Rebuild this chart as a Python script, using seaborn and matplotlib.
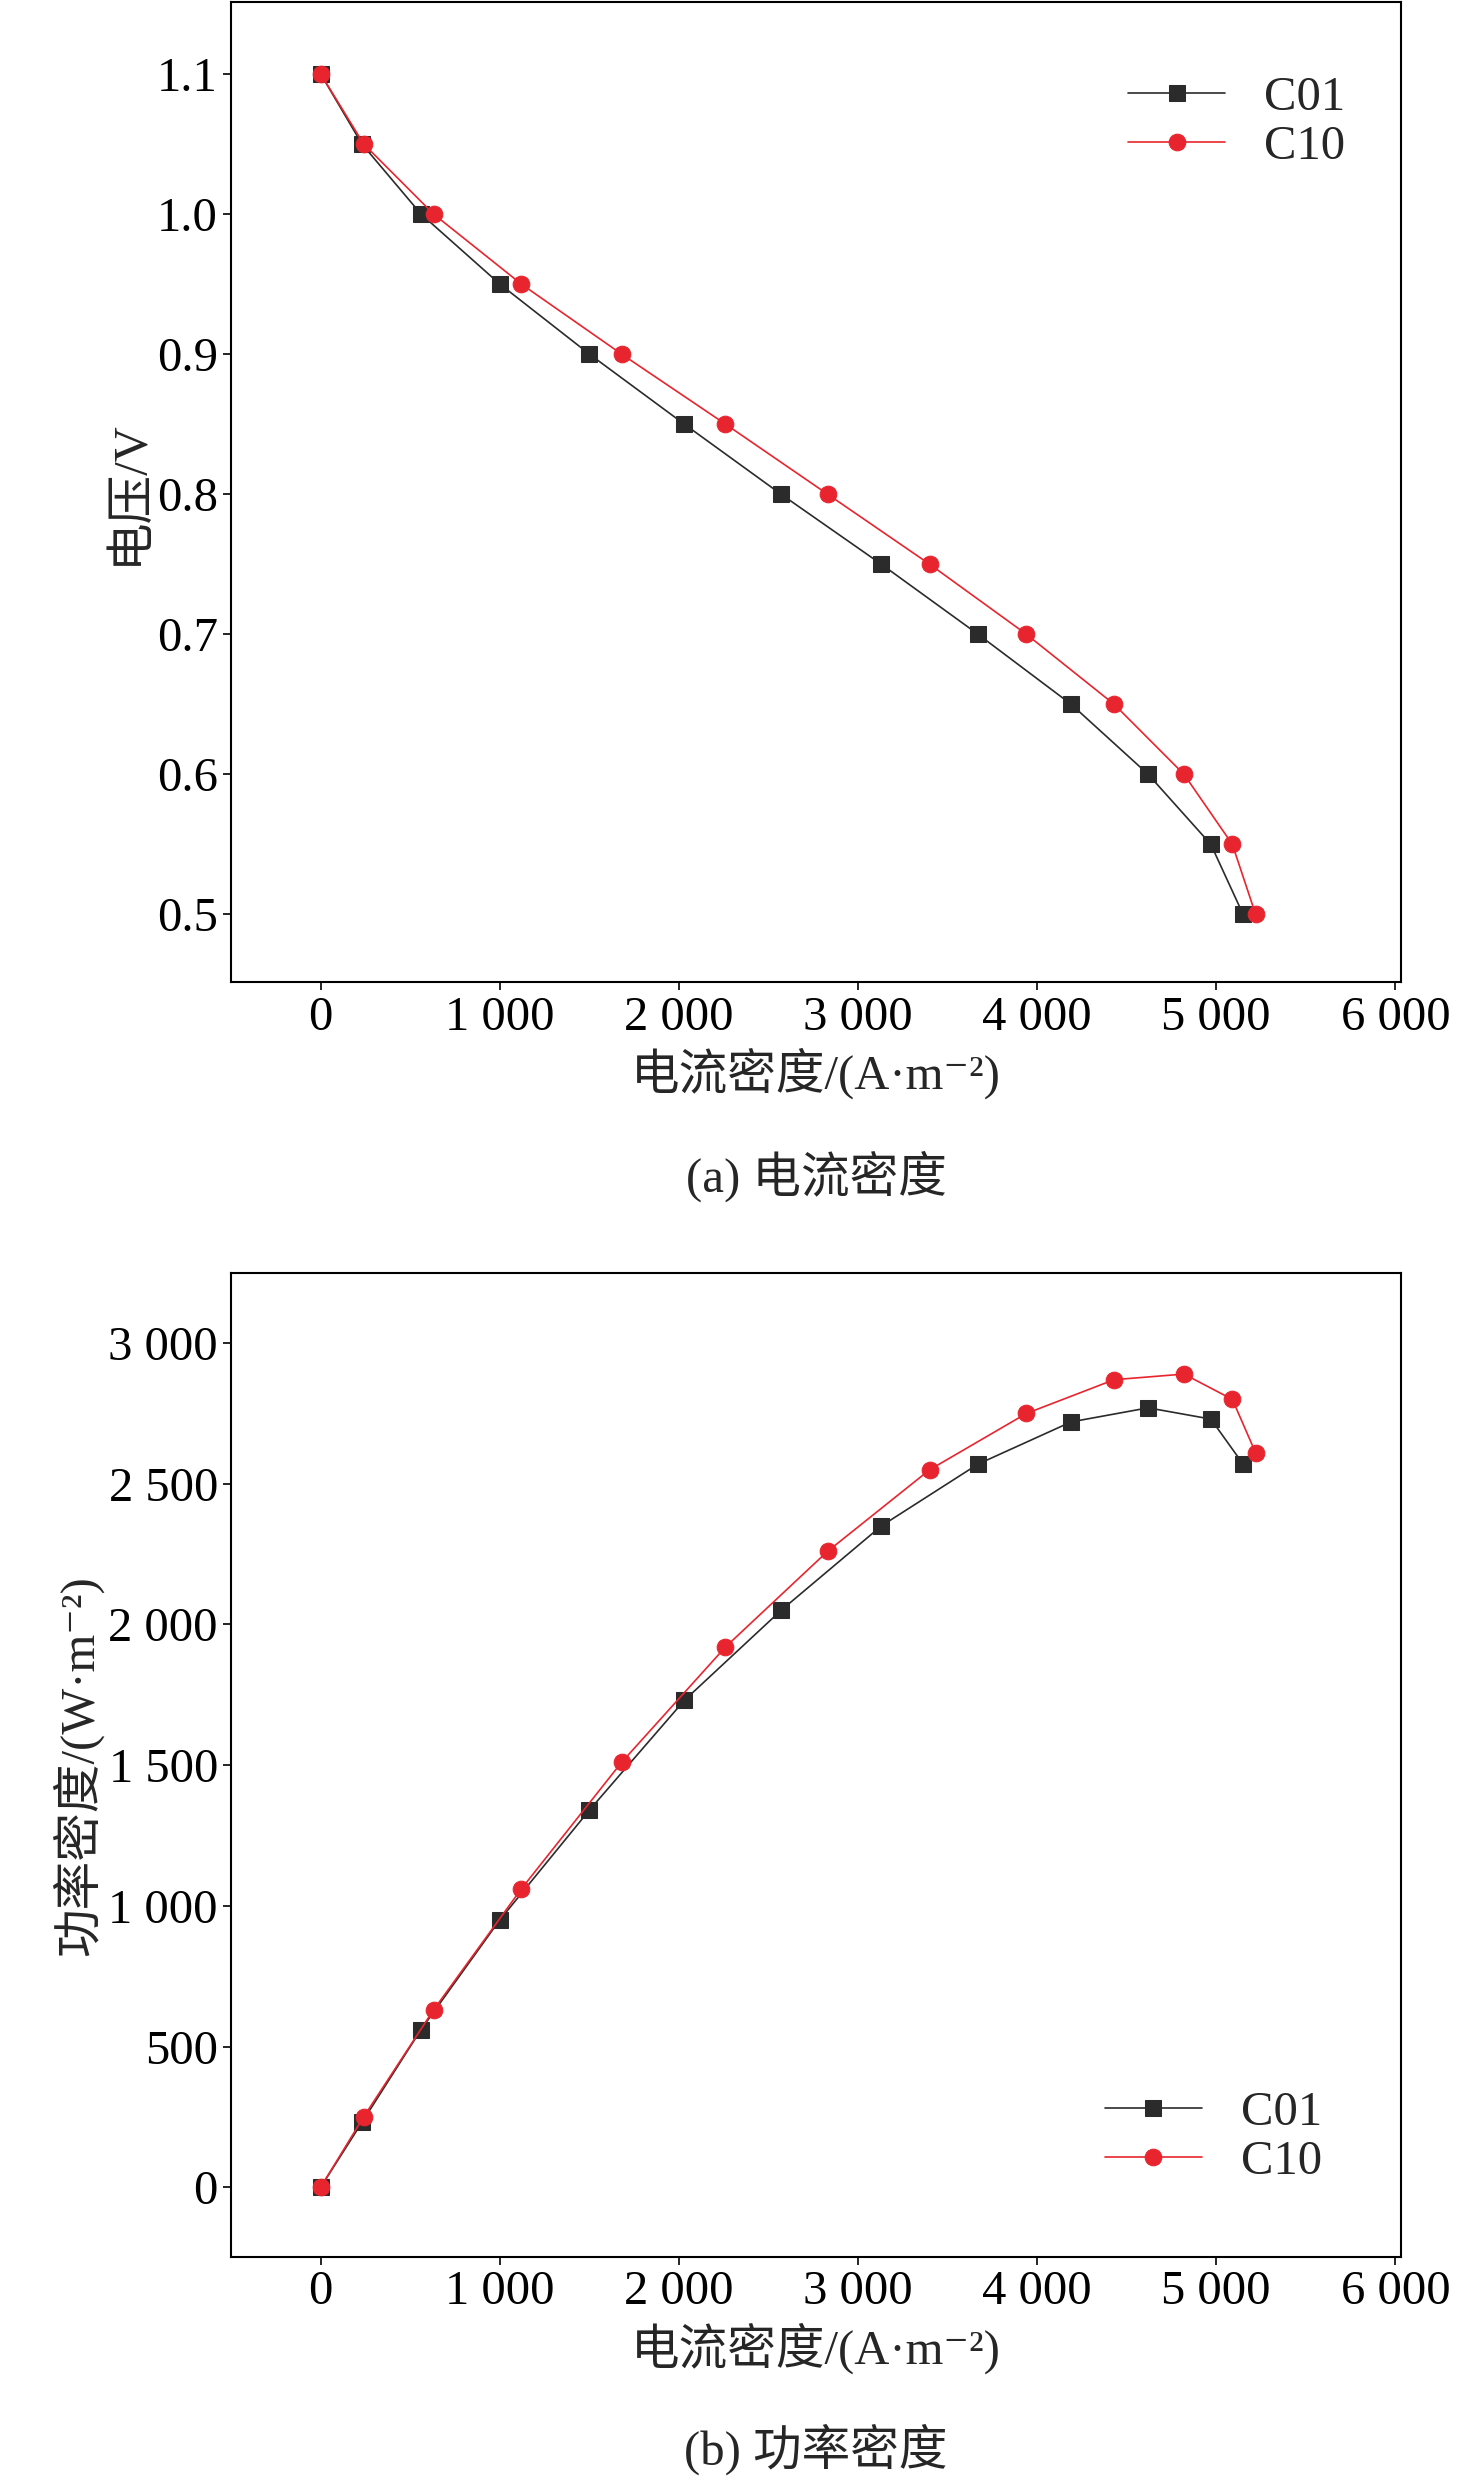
import matplotlib
matplotlib.use("Agg")
import matplotlib.pyplot as plt
import seaborn as sns
import pandas as pd
from matplotlib.ticker import FuncFormatter

sns.set_theme(style="ticks")
plt.rcParams['font.family'] = ['Liberation Serif', 'Noto Sans CJK SC', 'DejaVu Sans']

voltage = [1.1, 1.05, 1.0, 0.95, 0.9, 0.85, 0.8, 0.75, 0.7, 0.65, 0.6, 0.55, 0.5]
c01_current = [0, 230, 560, 1000, 1500, 2030, 2570, 3130, 3670, 4190, 4620, 4970, 5150]
c10_current = [0, 240, 630, 1120, 1680, 2260, 2830, 3400, 3940, 4430, 4820, 5090, 5220]
c01_power = [0, 230, 560, 950, 1340, 1730, 2050, 2350, 2570, 2720, 2770, 2730, 2570]
c10_power = [0, 250, 630, 1060, 1510, 1920, 2260, 2550, 2750, 2870, 2890, 2800, 2610]

df = pd.concat([
    pd.DataFrame({'x': c01_current, 'v': voltage, 'p': c01_power, 's': 'C01'}),
    pd.DataFrame({'x': c10_current, 'v': voltage, 'p': c10_power, 's': 'C10'}),
])

fs = 35
fig = plt.figure(figsize=(14.76, 24.87), dpi=100)
ax1 = fig.add_axes([0.1566, 0.605, 0.7924, 0.394])
ax2 = fig.add_axes([0.1566, 0.0925, 0.7924, 0.3955])
pal = {'C01': '#2b2b2b', 'C10': '#e8252e'}
mk = {'C01': 's', 'C10': 'o'}

thousands = FuncFormatter(lambda v, p: f"{int(v):,}".replace(',', ' ') if abs(v) >= 1000 else f"{int(v)}")

for ax, ycol in [(ax1, 'v'), (ax2, 'p')]:
    sns.lineplot(data=df, x='x', y=ycol, hue='s', style='s', markers=mk, dashes=False,
                 palette=pal, markersize=12, linewidth=1.2, ax=ax, sort=False)
    for l in ax.lines:
        l.set_markeredgecolor(l.get_color())
    ax.set_xlim(-500, 6030)
    ax.set_xticks(range(0, 6001, 1000))
    ax.xaxis.set_major_formatter(thousands)
    ax.tick_params(labelsize=fs, direction='out', length=6, width=1.2, colors='black')
    for sp in ax.spines.values():
        sp.set_linewidth(1.5)
        sp.set_color('black')
    ax.set_xlabel('电流密度/(A·m⁻²)', fontsize=fs, labelpad=6)

ax1.set_ylim(0.4515, 1.151)
ax1.set_yticks([0.5, 0.6, 0.7, 0.8, 0.9, 1.0, 1.1])
ax1.yaxis.set_major_formatter(FuncFormatter(lambda v, p: f"{v:.1f}"))
ax1.set_ylabel('电压/V', fontsize=fs)
ax1.legend(title=None, fontsize=fs, frameon=False, loc='upper right',
           bbox_to_anchor=(0.99, 0.97), handlelength=2.0, labelspacing=0.1)

ax2.set_ylim(-248, 3248)
ax2.set_yticks(range(0, 3001, 500))
ax2.yaxis.set_major_formatter(thousands)
ax2.set_ylabel('功率密度/(W·m⁻²)', fontsize=fs)
ax2.legend(title=None, fontsize=fs, frameon=False, loc='lower right',
           bbox_to_anchor=(0.97, 0.03), handlelength=2.0, labelspacing=0.1)

fig.text(0.553, 0.527, '(a) 电流密度', ha='center', va='center', fontsize=fs)
fig.text(0.553, 0.015, '(b) 功率密度', ha='center', va='center', fontsize=fs)

fig.savefig('out.png', dpi=100)
